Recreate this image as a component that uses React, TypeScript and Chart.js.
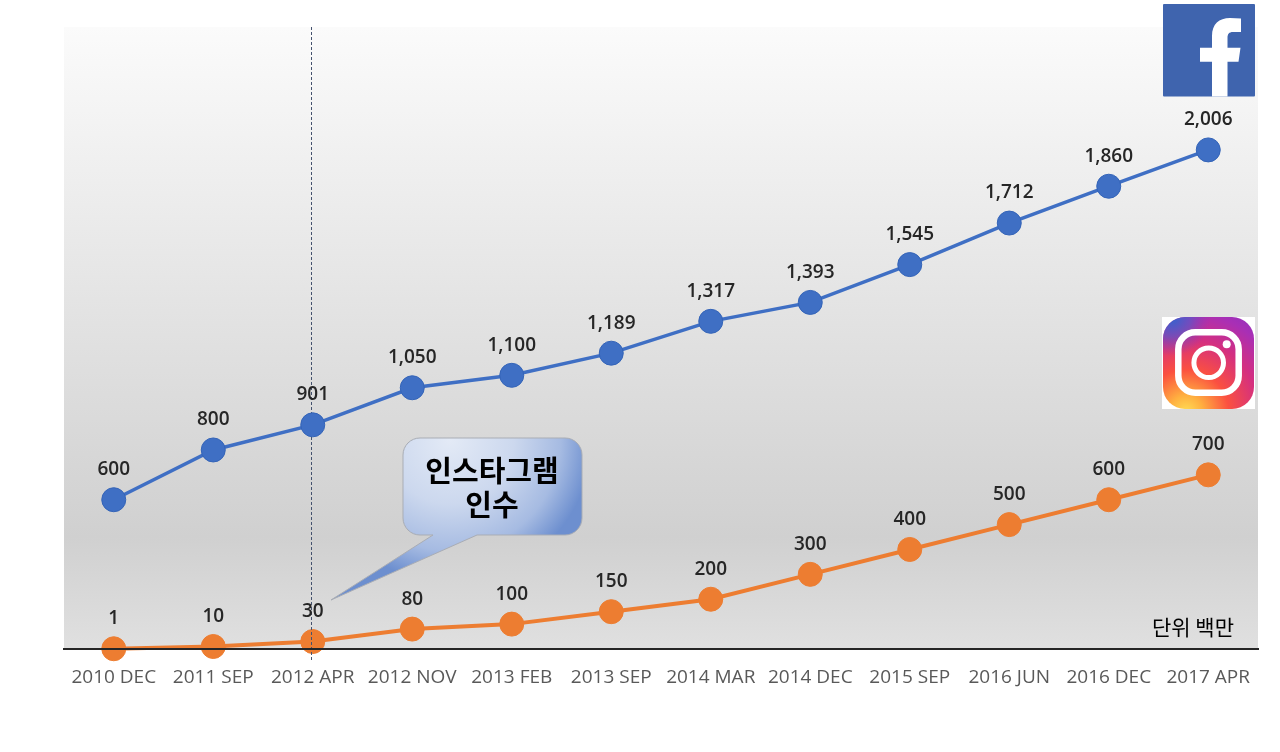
import React, { useEffect, useRef } from "react";
import { Chart, registerables } from "chart.js";

Chart.register(...registerables);

const categories = ["2010 DEC", "2011 SEP", "2012 APR", "2012 NOV", "2013 FEB", "2013 SEP", "2014 MAR", "2014 DEC", "2015 SEP", "2016 JUN", "2016 DEC", "2017 APR"];
const facebookUsers = [600, 800, 901, 1050, 1100, 1189, 1317, 1393, 1545, 1712, 1860, 2006];
const instagramUsers = [1, 10, 30, 80, 100, 150, 200, 300, 400, 500, 600, 700];
const acquisitionIndex = 2;
const calloutLines = ["인스타그램", "인수"];
const unitLabel = "단위 백만";

const LABEL_FONT = "600 19px 'Open Sans', 'Noto Sans', sans-serif";

function roundRectPath(ctx: CanvasRenderingContext2D, x: number, y: number, w: number, h: number, r: number) {
  ctx.beginPath();
  ctx.roundRect(x, y, w, h, r);
}

function drawFacebook(ctx: CanvasRenderingContext2D) {
  ctx.save();
  ctx.fillStyle = "#3f64ae";
  roundRectPath(ctx, 1163, 4, 92, 92.5, 1);
  ctx.fill();
  ctx.fillStyle = "#ffffff";
  ctx.beginPath();
  ctx.moveTo(1212, 96.5);
  ctx.lineTo(1212, 61.7);
  ctx.lineTo(1200, 61.7);
  ctx.lineTo(1200, 47.7);
  ctx.lineTo(1212, 47.7);
  ctx.lineTo(1212, 36);
  ctx.bezierCurveTo(1212, 24, 1219, 18, 1230, 18);
  ctx.lineTo(1241, 18.5);
  ctx.lineTo(1241, 32);
  ctx.lineTo(1233, 32);
  ctx.bezierCurveTo(1229, 32, 1227.5, 34, 1227.5, 38);
  ctx.lineTo(1227.5, 47.7);
  ctx.lineTo(1240.5, 47.7);
  ctx.lineTo(1238.5, 61.7);
  ctx.lineTo(1227.5, 61.7);
  ctx.lineTo(1227.5, 96.5);
  ctx.closePath();
  ctx.fill();
  ctx.restore();
}

function drawInstagram(ctx: CanvasRenderingContext2D) {
  ctx.save();
  ctx.fillStyle = "#ffffff";
  ctx.fillRect(1162, 317, 93, 92);
  roundRectPath(ctx, 1163, 317, 91, 92, 22);
  ctx.save();
  ctx.clip();
  const g = ctx.createRadialGradient(1186, 412, 0, 1186, 412, 118);
  g.addColorStop(0, "#ffdd55");
  g.addColorStop(0.14, "#ffb040");
  g.addColorStop(0.36, "#fb5040");
  g.addColorStop(0.62, "#d42f80");
  g.addColorStop(0.85, "#a92fb5");
  g.addColorStop(1, "#9030c0");
  ctx.fillStyle = g;
  ctx.fillRect(1163, 317, 91, 92);
  const b = ctx.createRadialGradient(1172, 318, 0, 1172, 318, 38);
  b.addColorStop(0, "rgba(50,100,205,1)");
  b.addColorStop(0.5, "rgba(80,90,205,0.65)");
  b.addColorStop(1, "rgba(120,60,200,0)");
  ctx.fillStyle = b;
  ctx.fillRect(1163, 317, 91, 92);
  ctx.restore();
  ctx.strokeStyle = "#ffffff";
  ctx.fillStyle = "#ffffff";
  ctx.lineWidth = 6.5;
  roundRectPath(ctx, 1178.3, 332.3, 60.4, 60.4, 17);
  ctx.stroke();
  ctx.lineWidth = 5;
  ctx.beginPath();
  ctx.arc(1208.7, 362.7, 14.8, 0, Math.PI * 2);
  ctx.stroke();
  ctx.beginPath();
  ctx.arc(1226.7, 344.3, 4, 0, Math.PI * 2);
  ctx.fill();
  ctx.restore();
}

function drawCallout(ctx: CanvasRenderingContext2D) {
  ctx.save();
  const x = 403, y = 438, w = 179, h = 97, r = 17;
  ctx.beginPath();
  ctx.moveTo(x + r, y);
  ctx.lineTo(x + w - r, y);
  ctx.arcTo(x + w, y, x + w, y + r, r);
  ctx.lineTo(x + w, y + h - r);
  ctx.arcTo(x + w, y + h, x + w - r, y + h, r);
  ctx.lineTo(477, y + h);
  ctx.lineTo(331, 600);
  ctx.lineTo(433, y + h);
  ctx.lineTo(x + r, y + h);
  ctx.arcTo(x, y + h, x, y + h - r, r);
  ctx.lineTo(x, y + r);
  ctx.arcTo(x, y, x + r, y, r);
  ctx.closePath();
  const g = ctx.createRadialGradient(450, 440, 0, 450, 440, 142);
  g.addColorStop(0, "#e3eaf6");
  g.addColorStop(0.45, "#ccd8ee");
  g.addColorStop(0.78, "#a6bbe2");
  g.addColorStop(1, "#6d8fcf");
  ctx.fillStyle = g;
  ctx.fill();
  ctx.strokeStyle = "#a9adb5";
  ctx.lineWidth = 1;
  ctx.stroke();
  ctx.fillStyle = "#000000";
  ctx.font = "700 29px 'Noto Sans CJK KR', sans-serif";
  ctx.textAlign = "center";
  ctx.textBaseline = "middle";
  ctx.fillText(calloutLines[0], 492, 471);
  ctx.fillText(calloutLines[1], 492, 505);
  ctx.restore();
}

const backgroundPlugin = {
  id: "plotBackground",
  beforeDraw(chart: any) {
    const { ctx, chartArea: a } = chart;
    const g = ctx.createLinearGradient(0, a.top, 0, a.bottom);
    g.addColorStop(0, "#fbfbfb");
    g.addColorStop(0.82, "#d0d0d0");
    g.addColorStop(1, "#e0e0e0");
    ctx.save();
    ctx.fillStyle = g;
    ctx.fillRect(a.left, a.top, a.right - a.left, a.bottom - a.top);
    ctx.restore();
  },
};

const guideLinePlugin = {
  id: "guideLine",
  afterDatasetDraw(chart: any, args: any) {
    if (args.index !== 1) return;
    const { ctx, chartArea: a } = chart;
    const x = Math.floor(chart.scales.x.getPixelForValue(acquisitionIndex)) - 0.5;
    ctx.save();
    ctx.strokeStyle = "#44526e";
    ctx.lineWidth = 1;
    ctx.setLineDash([3, 2]);
    ctx.beginPath();
    ctx.moveTo(x, a.top);
    ctx.lineTo(x, a.bottom + 13);
    ctx.stroke();
    ctx.restore();
  },
};

const overlayPlugin = {
  id: "overlay",
  afterDraw(chart: any) {
    const { ctx } = chart;
    drawFacebook(ctx);
    drawInstagram(ctx);
    drawCallout(ctx);
    ctx.save();
    ctx.font = LABEL_FONT;
    ctx.fillStyle = "#262626";
    ctx.textAlign = "center";
    ctx.textBaseline = "middle";
    chart.data.datasets.forEach((ds: any, i: number) => {
      chart.getDatasetMeta(i).data.forEach((pt: any, j: number) => {
        ctx.fillText(ds.data[j].toLocaleString("en-US"), pt.x, pt.y - 30);
      });
    });
    ctx.font = "400 21px 'Noto Sans CJK KR', sans-serif";
    ctx.fillStyle = "#000000";
    ctx.fillText(unitLabel, 1193, 627);
    ctx.restore();
  },
};

export default function App() {
  const ref = useRef<HTMLCanvasElement>(null);
  useEffect(() => {
    const chart = new Chart(ref.current!, {
      type: "line",
      data: {
        labels: categories,
        datasets: [
          { label: "Facebook", data: facebookUsers, borderColor: "#3f6fc4", backgroundColor: "#3f6fc4", pointBorderColor: "#3464b8", borderWidth: 3.5, pointRadius: 12, pointBorderWidth: 1, tension: 0, clip: false },
          { label: "Instagram", data: instagramUsers, borderColor: "#ed7d31", backgroundColor: "#ed7d31", pointBorderColor: "#ed7d31", borderWidth: 4, pointRadius: 12, pointBorderWidth: 1, tension: 0, clip: false },
        ],
      },
      options: {
        responsive: false,
        animation: false,
        devicePixelRatio: 1,
        layout: { padding: { left: 64, right: 22, top: 27, bottom: 0 } },
        plugins: { legend: { display: false }, tooltip: { enabled: false } },
        scales: {
          x: {
            offset: true,
            afterFit(scale: any) { scale.height = 103; },
            grid: { display: false, drawTicks: false },
            border: { display: true, color: "#262626", width: 2, z: 1 },
            ticks: { color: "#595959", font: { size: 19, family: "'Open Sans', 'Noto Sans', sans-serif" }, padding: 17, maxRotation: 0, autoSkip: false },
          },
          y: { display: false, min: 0, max: 2500 },
        },
      },
      plugins: [backgroundPlugin, guideLinePlugin, overlayPlugin],
    });
    return () => chart.destroy();
  }, []);
  return (
    <div style={{ position: "fixed", left: 0, top: 0, width: 1280, height: 752, background: "#fff" }}>
      <canvas ref={ref} width={1280} height={752} style={{ display: "block" }} />
    </div>
  );
}
